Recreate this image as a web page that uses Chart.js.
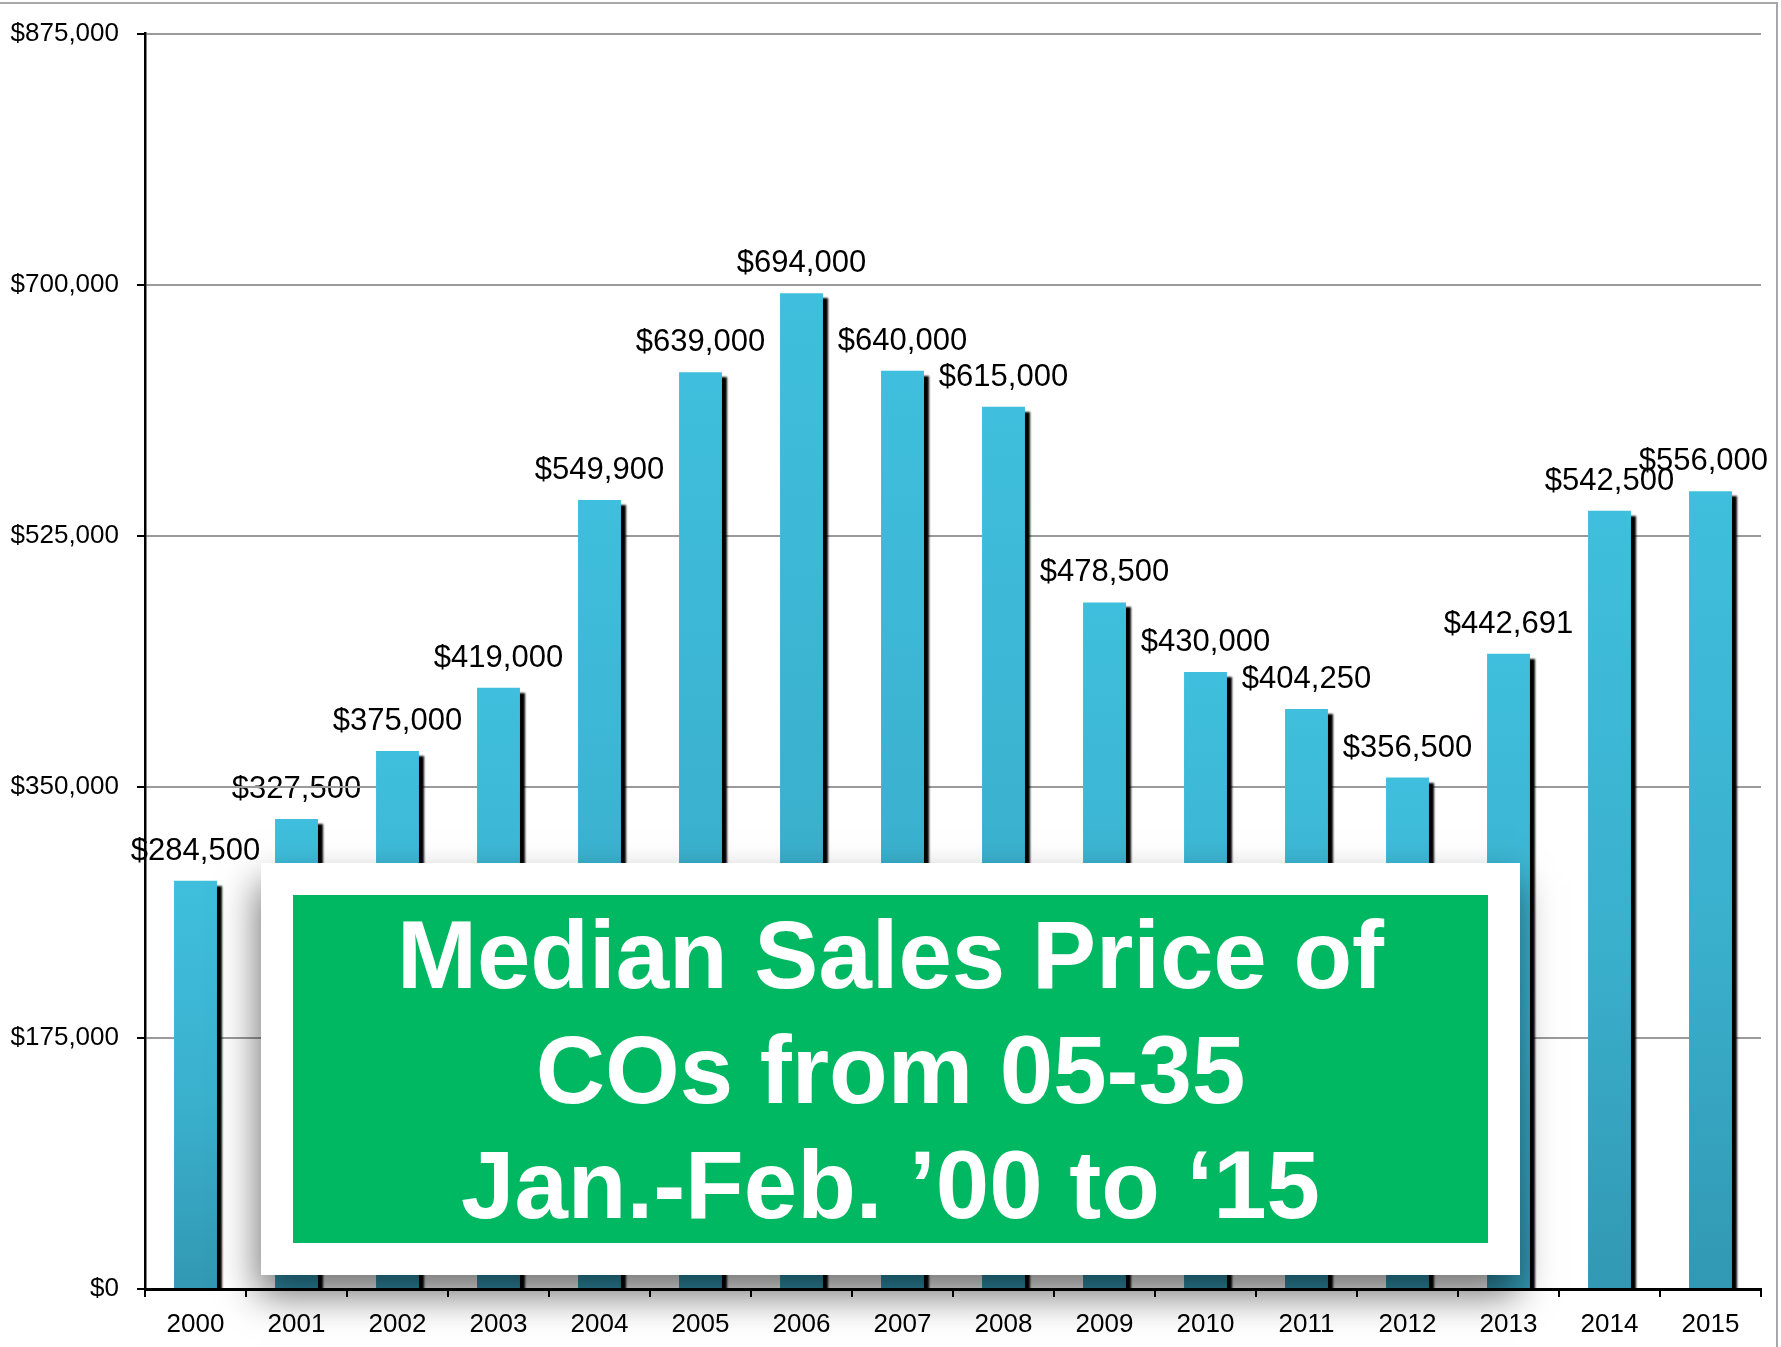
<!DOCTYPE html>
<html>
<head>
<meta charset="utf-8">
<script src="https://cdn.jsdelivr.net/npm/chart.js@4"></script>
<style>
  html, body { margin: 0; padding: 0; background: #fff; }
  #wrap { position: relative; width: 1781px; height: 1347px; overflow: hidden; }
  #chart { position: absolute; left: 0; top: 0; }
  #note {
    position: absolute; left: 261px; top: 863px; width: 1259px; height: 412px;
    background: #fff; box-shadow: -3px 20px 36px rgba(0, 0, 0, 0.55);
    box-sizing: border-box; padding: 32px;
  }
  #note .panel {
    width: 100%; height: 100%; background: #00b862; color: #fff;
    font: bold 96px "Liberation Sans", Arial, sans-serif; line-height: 115px;
    text-align: center; padding-top: 2px; box-sizing: border-box;
  }
</style>
</head>
<body>
<div id="wrap">
  <canvas id="chart" width="1781" height="1347"></canvas>
  <div id="note"><div class="panel">Median Sales Price of<br>COs from 05-35<br>Jan.-Feb. ’00 to ‘15</div></div>
</div>
<script>
const years = ['2000', '2001', '2002', '2003', '2004', '2005', '2006', '2007',
  '2008', '2009', '2010', '2011', '2012', '2013', '2014', '2015'];
const medianPrices = [284500, 327500, 375000, 419000, 549900, 639000, 694000, 640000,
  615000, 478500, 430000, 404250, 356500, 442691, 542500, 556000];
const yTicks = [0, 175000, 350000, 525000, 700000, 875000];

const font = '"Liberation Sans", Arial, sans-serif';
const money = v => '$' + v.toLocaleString('en-US');

const barFill = (ctx) => {
  const { chart } = ctx;
  if (!chart.chartArea || ctx.type !== 'data') return '#3ebedc';
  const y = chart.scales.y;
  const g = chart.ctx.createLinearGradient(0, y.getPixelForValue(ctx.raw), 0, y.getPixelForValue(0));
  g.addColorStop(0, '#3fbfdd');
  g.addColorStop(0.55, '#3ab0cd');
  g.addColorStop(1, '#3298b3');
  return g;
};

// hard black drop shadow on every bar
const barShadow = {
  id: 'barShadow',
  beforeDatasetsDraw(chart) {
    const c = chart.ctx;
    c.save();
    c.shadowColor = 'rgba(0,0,0,1)';
    c.shadowOffsetX = 5;
    c.shadowOffsetY = 5;
    c.shadowBlur = 2;
  },
  afterDatasetsDraw(chart) {
    chart.ctx.restore();
  }
};

// value labels above the bars, drawn before the axes so the y axis line sits on top
const valueLabels = {
  id: 'valueLabels',
  beforeDraw(chart) {
    const c = chart.ctx;
    const meta = chart.getDatasetMeta(0);
    c.save();
    c.font = '31px ' + font;
    c.fillStyle = '#000';
    c.textAlign = 'center';
    c.textBaseline = 'alphabetic';
    meta.data.forEach((bar, i) => {
      const text = money(medianPrices[i]);
      const half = c.measureText(text).width / 2;
      const x = Math.min(bar.x, chart.width - 13 - half);
      c.fillText(text, x, bar.y - 21);
    });
    c.restore();
  }
};

const frame = {
  id: 'frame',
  afterDraw(chart) {
    const c = chart.ctx;
    c.save();
    c.strokeStyle = '#a8a8a8';
    c.lineWidth = 2;
    c.beginPath();
    c.moveTo(0, 3);
    c.lineTo(chart.width - 4, 3);
    c.lineTo(chart.width - 4, chart.height);
    c.stroke();
    c.restore();
  }
};

new Chart(document.getElementById('chart'), {
  type: 'bar',
  data: {
    labels: years,
    datasets: [{
      data: medianPrices,
      backgroundColor: barFill,
      borderWidth: 0,
      categoryPercentage: 1,
      barPercentage: 0.425,
      clip: 0
    }]
  },
  options: {
    responsive: false,
    animation: false,
    events: [],
    layout: { padding: { top: 33, right: 20, left: 0, bottom: 0 } },
    plugins: { legend: { display: false }, tooltip: { enabled: false } },
    scales: {
      x: {
        z: 1,
        afterFit: s => { s.height = 58; },
        grid: { drawOnChartArea: false, offset: true, tickLength: 8, tickColor: '#000', lineWidth: 2 },
        border: { color: '#000', width: 3 },
        ticks: { color: '#000', font: { family: font, size: 26 }, padding: 12, maxRotation: 0 }
      },
      y: {
        min: 0,
        max: 875000,
        afterFit: s => { s.width = 145; },
        afterBuildTicks: s => { s.ticks = yTicks.map(v => ({ value: v })); },
        grid: { color: '#9a9a9a', lineWidth: 2, tickLength: 8, tickColor: '#000' },
        border: { color: '#000', width: 2.5 },
        ticks: { color: '#000', font: { family: font, size: 26 }, padding: 18, callback: v => money(v) }
      }
    }
  },
  plugins: [barShadow, valueLabels, frame]
});
</script>
</body>
</html>
